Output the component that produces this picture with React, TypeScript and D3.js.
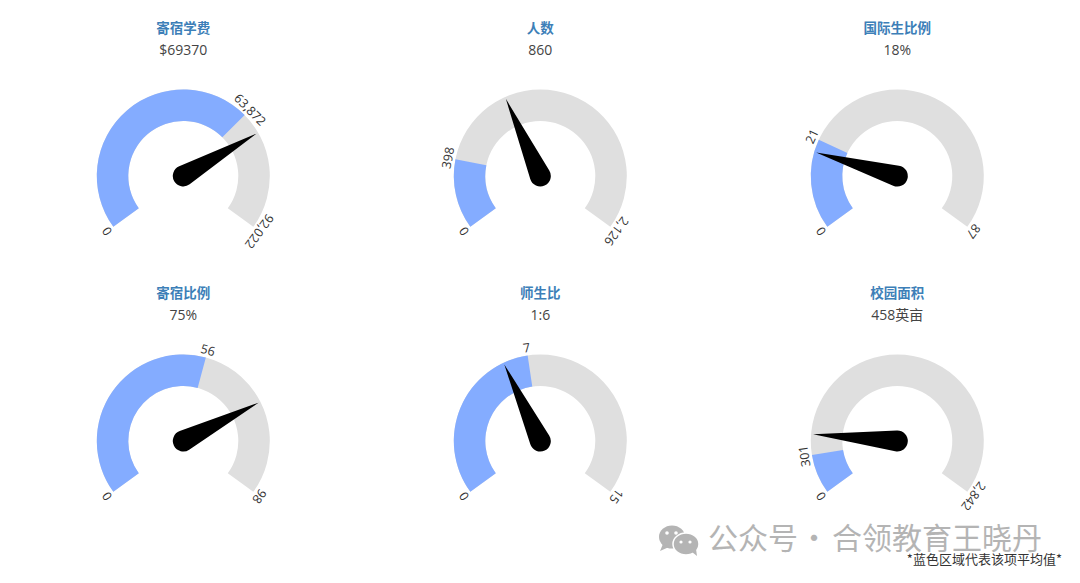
import * as d3 from 'd3';

const titles = ['寄宿学费', '人数', '国际生比例', '寄宿比例', '师生比', '校园面积'];
const valueLabels = ['$69370', '860', '18%', '75%', '1:6', '458英亩'];
const needleValues = [69370, 860, 18, 75, 6, 458];
const averages = [63872, 398, 21, 56, 7, 301];
const maxima = [94022, 2126, 87, 100, 15, 2842];
const maxLabels = ['92,022', '2,126', '87', '98', '15', '2,842'];

const width = 1080;
const height = 583;
const columns = [183.3, 540.3, 897.3];
const rows = [176, 441];
const outerR = 86.5;
const innerR = 55;
const startAngle = -0.7 * Math.PI;
const endAngle = 0.7 * Math.PI;
const fontFamily = '"Open Sans", "Noto Sans CJK SC", sans-serif';
const cjkFont = '"Noto Sans CJK SC", sans-serif';

function needlePath(tipAngle: number) {
  const tip = outerR - 2;
  const r = 10.5;
  const spread = Math.acos(r / tip);
  const a = tipAngle - Math.PI / 2;
  const p = d3.path();
  p.moveTo(tip * Math.cos(a), tip * Math.sin(a));
  p.lineTo(r * Math.cos(a + spread), r * Math.sin(a + spread));
  p.arc(0, 0, r, a + spread, a - spread);
  p.closePath();
  return p.toString();
}

function Gauge({ index }: { index: number }) {
  const angle = d3.scaleLinear().domain([0, maxima[index]]).range([startAngle, endAngle]);
  const arc = d3.arc().innerRadius(innerR).outerRadius(outerR);
  const avgAngle = angle(averages[index]);
  const cx = columns[index % 3];
  const cy = rows[Math.floor(index / 3)];

  const ticks = [
    { label: '0', a: startAngle },
    { label: d3.format(',')(averages[index]), a: avgAngle },
    { label: maxLabels[index], a: endAngle },
  ];

  return (
    <g>
      <text x={cx} y={cy - 147} textAnchor="middle" dominantBaseline="middle" fontSize={13.5} fontWeight={700} fill="#3d7fb8">
        {titles[index]}
      </text>
      <text x={cx} y={cy - 125} textAnchor="middle" dominantBaseline="middle" fontSize={14} fill="#444">
        {valueLabels[index]}
      </text>
      <g transform={`translate(${cx},${cy})`}>
        <path d={arc({ startAngle, endAngle } as any) as string} fill="#dfdfdf" />
        <path d={arc({ startAngle, endAngle: avgAngle } as any) as string} fill="#84acff" />
        {ticks.map((t) => {
          const deg = (t.a * 180) / Math.PI;
          return (
            <text
              key={t.label + deg}
              transform={`rotate(${deg}) translate(0,${-outerR - 6.5})`}
              textAnchor="middle"
              dominantBaseline="middle"
              fontSize={12.5}
              fill="#333"
            >
              {t.label}
            </text>
          );
        })}
        <path d={needlePath(angle(needleValues[index]))} fill="#000" />
      </g>
    </g>
  );
}

export default function App() {
  return (
    <svg
      width={width}
      height={height}
      viewBox={`0 0 ${width} ${height}`}
      fontFamily={fontFamily}
      style={{ position: 'absolute', left: 0, top: 0, background: '#fff' }}
    >
      {titles.map((_, i) => (
        <Gauge key={i} index={i} />
      ))}
      {/* watermark */}
      <g fill="#b4b4b4">
        <ellipse cx={672} cy={537} rx={13} ry={11.5} />
        <path d="M663 544 l-3 7 l9 -4 z" />
      </g>
      <g fill="#b4b4b4" stroke="#fff" strokeWidth={1.5}>
        <ellipse cx={686} cy={544} rx={13} ry={11} />
      </g>
      <path d="M692 552 l5 4 l-1 -7 z" fill="#b4b4b4" />
      <g fill="#fff">
        <circle cx={667} cy={533} r={1.8} />
        <circle cx={676} cy={533} r={1.8} />
        <circle cx={681} cy={542} r={1.6} />
        <circle cx={690} cy={542} r={1.6} />
      </g>
      <g fontSize={30} fill="#b4b4b4" fontFamily={cjkFont}>
        <text x={708} y={549}>公众号</text>
        <text x={814} y={549} textAnchor="middle">·</text>
        <text x={832} y={549}>合领教育王晓丹</text>
      </g>
      <text x={1062} y={564} textAnchor="end" fontSize={13} fill="#333" fontFamily={cjkFont}>
        *蓝色区域代表该项平均值*
      </text>
    </svg>
  );
}
